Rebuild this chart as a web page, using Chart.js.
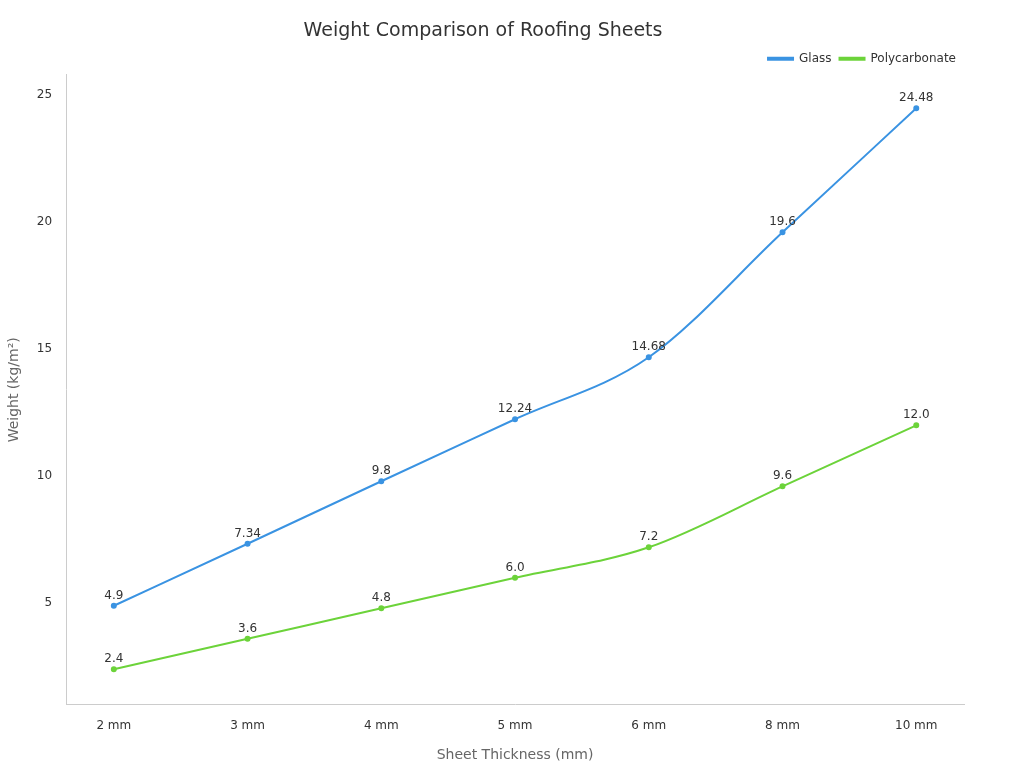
<!DOCTYPE html>
<html><head><meta charset="utf-8">
<script src="https://cdn.jsdelivr.net/npm/chart.js@4/dist/chart.umd.min.js"></script>
<style>html,body{margin:0;padding:0;background:#fff}#w{width:1024px;height:768px}</style>
</head><body><div id="w"><canvas id="c"></canvas></div>
<script>
const categories=["2 mm","3 mm","4 mm","5 mm","6 mm","8 mm","10 mm"];
const glass=[4.9,7.34,9.8,12.24,14.68,19.6,24.48];
const poly=[2.4,3.6,4.8,6.0,7.2,9.6,12.0];
const yTicks=[5,10,15,20,25];
const F="'DejaVu Sans', sans-serif";
const labelsPlugin={id:'lbl',afterDatasetsDraw(ch){const ctx=ch.ctx;ctx.save();ctx.font="12px "+F;ctx.fillStyle="#333";ctx.textAlign="center";ctx.textBaseline="bottom";
ch.data.datasets.forEach((ds,i)=>{ch.getDatasetMeta(i).data.forEach((p,j)=>{const v=ds.raw[j];ctx.fillText(Number.isInteger(v)?v.toFixed(1):String(v),p.x,p.y-4);});});ctx.restore();}};
const mk=(arr)=>arr.map((v,i)=>({x:i,y:v}));
new Chart(document.getElementById('c'),{type:'line',
data:{datasets:[
{label:'Glass',raw:glass,data:mk(glass),borderColor:'#3a93e2',backgroundColor:'#3a93e2',borderWidth:2,pointRadius:2,cubicInterpolationMode:'monotone'},
{label:'Polycarbonate',raw:poly,data:mk(poly),borderColor:'#6cd33a',backgroundColor:'#6cd33a',borderWidth:2,pointRadius:2,cubicInterpolationMode:'monotone'}]},
options:{responsive:true,maintainAspectRatio:false,animation:false,
layout:{padding:{left:2,right:60,top:14,bottom:0}},
plugins:{title:{display:true,text:'Weight Comparison of Roofing Sheets',font:{family:F,size:19,weight:'normal'},color:'#333',padding:{top:6,bottom:2}},
legend:{align:'end',labels:{boxWidth:25,boxHeight:2,font:{family:F,size:12},color:'#333',padding:8}},tooltip:{enabled:false}},
scales:{
x:{type:'linear',min:-0.357,max:6.357,afterBuildTicks(a){a.ticks=categories.map((c,i)=>({value:i}));},
ticks:{callback:(v)=>categories[v],font:{family:F,size:12},color:'#333',padding:6},
grid:{display:false},border:{color:'#ccc'},
title:{display:true,text:'Sheet Thickness (mm)',font:{family:F,size:14},color:'#666',padding:{top:8,bottom:4}}},
y:{min:1,max:25.8,afterBuildTicks(a){a.ticks=yTicks.map(v=>({value:v}));},
ticks:{font:{family:F,size:12},color:'#333',padding:6},
grid:{display:false},border:{color:'#ccc'},
title:{display:true,text:'Weight (kg/m²)',font:{family:F,size:14},color:'#666',padding:{bottom:8}}}}},
plugins:[labelsPlugin]});
</script></body></html>
